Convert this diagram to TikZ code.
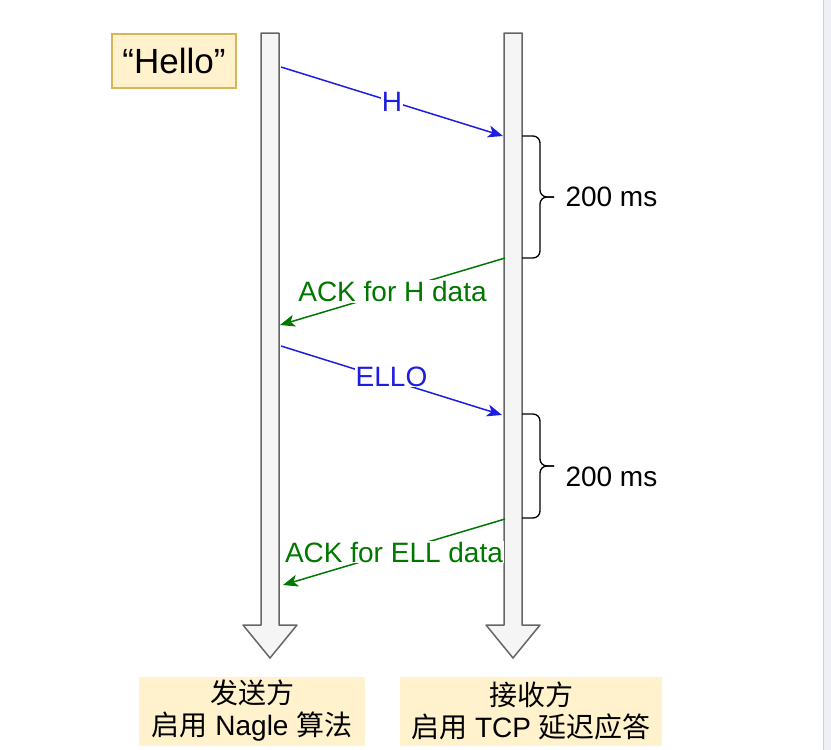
\documentclass[tikz,border=0pt]{standalone}
\usepackage{fontspec}
\setmainfont{Liberation Sans}
\newfontfamily\cjk{Noto Sans CJK SC}
\usetikzlibrary{arrows.meta}
\definecolor{msgblue}{RGB}{30,30,225}
\definecolor{ackgreen}{RGB}{0,120,0}
\definecolor{notefill}{HTML}{FFF2CC}
\definecolor{noteline}{HTML}{D6B656}
\definecolor{lanefill}{HTML}{F5F5F5}
\definecolor{laneline}{HTML}{666666}

\begin{document}
\begin{tikzpicture}[x=1pt,y=-1pt,
  every node/.style={font=\fontsize{28}{32}\selectfont},
  lane/.style={draw=laneline,fill=lanefill,line width=1.5pt,line join=round},
  msg/.style={line width=1.5pt,-{Stealth[length=15pt,width=12pt,inset=4pt]}},
  lbl/.style={fill=white,inner sep=1pt,midway},
  brc/.style={line width=1.3pt,rounded corners=7pt}]
  \useasboundingbox (0,0) rectangle (831,750);
  \fill[fill={rgb,255:red,238;green,240;blue,245}] (823,0) rectangle (831,750);
  \draw[gray!35] (823,0) -- (823,750);
  % the two time lines
  \foreach \x/\n in {270/snd,513/rcv} {
    \draw[lane] (\x-9,33) -- (\x+9,33) -- (\x+9,625) -- (\x+27,625)
      -- (\x,658) -- (\x-27,625) -- (\x-9,625) -- cycle;
  }
  \node[draw=noteline,fill=notefill,line width=1.5pt,minimum width=124pt,
    minimum height=54pt,font=\fontsize{35}{40}\selectfont] (hello) at (174,61) {``Hello''};
  % messages
  \coordinate (h0) at (281,67);  \coordinate (h1) at (503,136);
  \coordinate (a0) at (505,258); \coordinate (a1) at (280,325);
  \coordinate (e0) at (281,346); \coordinate (e1) at (502,415);
  \coordinate (b0) at (505,519); \coordinate (b1) at (283,585);
  \draw[msg,msgblue] (h0) -- node[lbl,text=msgblue] {H} (h1);
  \draw[msg,ackgreen] (a0) -- node[lbl,text=ackgreen] {ACK for H data} (a1);
  \draw[msg,msgblue] (e0) -- node[lbl,text=msgblue,yshift=4pt] {ELLO} (e1);
  \draw[msg,ackgreen] (b0) -- node[lbl,text=ackgreen] {ACK for ELL data} (b1);
  % delayed ack braces
  \foreach \a/\b/\m/\t in {136/258/197/197,414/518/466/477} {
    \draw[brc] (522,\a) -| (540,\m) -- (554,\m);
    \draw[brc] (522,\b) -| (540,\m) -- (554,\m);
    \node[anchor=west] (d\a) at (562,\t) {200 ms};
  }
  % sides
  \node[fill=notefill,minimum width=226pt,minimum height=69pt,align=center]
    (sender) at (252,711) {{\cjk 发送方}\\{\cjk 启用} Nagle {\cjk 算法}};
  \node[fill=notefill,minimum width=262pt,minimum height=69pt,align=center]
    (receiver) at (531,711) {{\cjk 接收方}\\{\cjk 启用} TCP {\cjk 延迟应答}};
\end{tikzpicture}
\end{document}
